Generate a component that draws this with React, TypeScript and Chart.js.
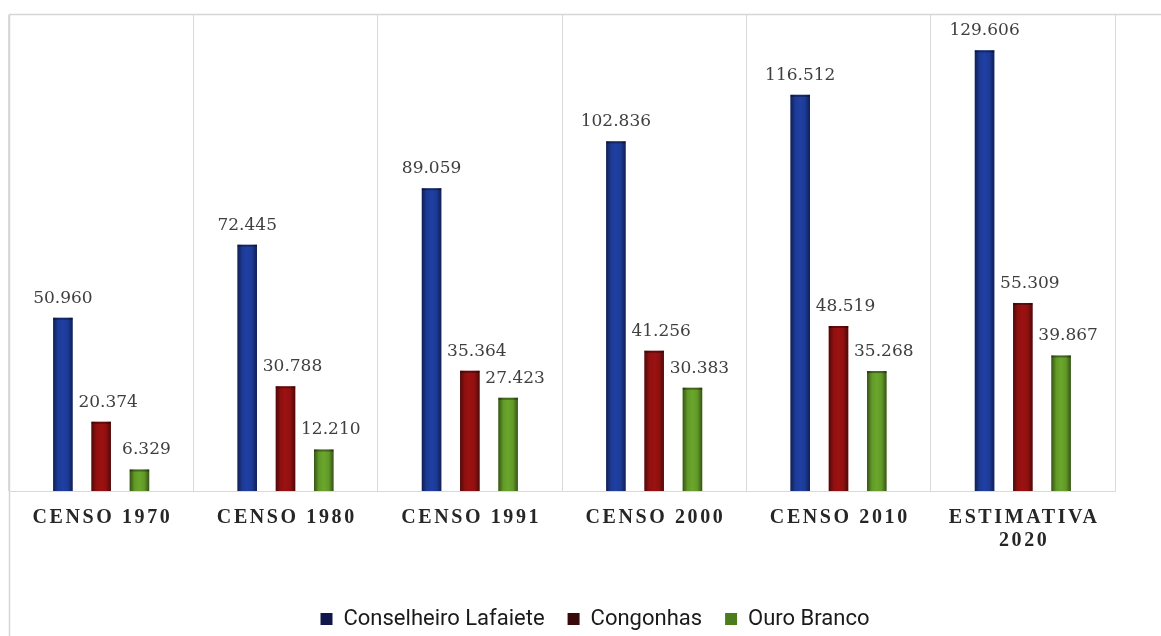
import { useEffect, useRef } from 'react';
import { Chart, registerables } from 'chart.js';

Chart.register(...registerables);

const categories: (string | string[])[] = [
  'CENSO 1970',
  'CENSO 1980',
  'CENSO 1991',
  'CENSO 2000',
  'CENSO 2010',
  ['ESTIMATIVA', '2020'],
];
const seriesNames = ['Conselheiro Lafaiete', 'Congonhas', 'Ouro Branco'];
const lafaiete = [50960, 72445, 89059, 102836, 116512, 129606];
const congonhas = [20374, 30788, 35364, 41256, 48519, 55309];
const ouroBranco = [6329, 12210, 27423, 30383, 35268, 39867];
const yMax = 140000;

const barColors = ['#1f3fa3', '#9c1111', '#6aa62b'];
const legendColors = ['#10174a', '#3a0909', '#4c7d1d'];
const labelOffsets = [0, 7, 7];
const tickLetterSpacing = 2.6;
const legendShift = 33;

function fmt(v: number): string {
  const th = Math.floor(v / 1000);
  const rest = String(v % 1000).padStart(3, '0');
  return th > 0 ? `${th}.${rest}` : String(v);
}

const framePlugin = {
  id: 'frame',
  afterLayout(chart: any) {
    const lg = chart.legend;
    if (lg) {
      lg.left += legendShift;
      lg.right += legendShift;
    }
  },
  beforeDraw(chart: any) {
    const ctx = chart.ctx;
    ctx.save();
    ctx.strokeStyle = '#d6d6d6';
    ctx.lineWidth = 1.5;
    ctx.beginPath();
    ctx.moveTo(9.5, chart.height);
    ctx.lineTo(9.5, 14.5);
    ctx.lineTo(chart.width, 14.5);
    ctx.stroke();
    ctx.restore();
    const s = chart.scales.x;
    if (s && !s.__patched) {
      const orig = s.drawLabels.bind(s);
      s.drawLabels = (area: any) => {
        const c = s.ctx;
        c.save();
        c.letterSpacing = tickLetterSpacing + 'px';
        c.translate(tickLetterSpacing / 2, 0);
        orig(area);
        c.restore();
      };
      s.__patched = true;
    }
  },
};

const barDecorPlugin = {
  id: 'barDecor',
  afterDatasetsDraw(chart: any) {
    const ctx = chart.ctx;
    chart.data.datasets.forEach((ds: any, di: number) => {
      const meta = chart.getDatasetMeta(di);
      meta.data.forEach((el: any, i: number) => {
        const { x, y, base, width } = el.getProps(['x', 'y', 'base', 'width'], true);
        const l = x - width / 2;
        const g = ctx.createLinearGradient(l, 0, l + width, 0);
        g.addColorStop(0, 'rgba(0,0,0,0.5)');
        g.addColorStop(0.25, 'rgba(0,0,0,0.08)');
        g.addColorStop(0.5, 'rgba(0,0,0,0)');
        g.addColorStop(0.75, 'rgba(0,0,0,0.08)');
        g.addColorStop(1, 'rgba(0,0,0,0.5)');
        ctx.save();
        ctx.fillStyle = g;
        ctx.fillRect(l, y, width, base - y);
        ctx.fillStyle = 'rgba(0,0,0,0.35)';
        ctx.fillRect(l, y, width, 2);
        ctx.restore();

        ctx.save();
        ctx.font = '17px "DejaVu Serif"';
        ctx.fillStyle = '#3f3f3f';
        ctx.textAlign = 'center';
        ctx.textBaseline = 'alphabetic';
        ctx.fillText(fmt(ds.data[i]), x + labelOffsets[di], y - 15);
        ctx.restore();
      });
    });
  },
};

export default function App() {
  const ref = useRef<HTMLCanvasElement>(null);
  useEffect(() => {
    if (!ref.current) return;
    const values = [lafaiete, congonhas, ouroBranco];
    const chart = new Chart(ref.current, {
      type: 'bar',
      data: {
        labels: categories,
        datasets: seriesNames.map((name, i) => ({
          label: name,
          data: values[i],
          backgroundColor: barColors[i],
          borderWidth: 0,
          categoryPercentage: 0.623,
          barPercentage: 0.51,
        })),
      },
      options: {
        animation: false,
        responsive: true,
        maintainAspectRatio: false,
        layout: { padding: { left: 9, right: 46, top: 15, bottom: 0 } },
        scales: {
          x: {
            offset: true,
            grid: { display: true, offset: true, color: '#d9d9d9', lineWidth: 1, drawTicks: false },
            border: { display: true, color: '#d9d9d9', width: 1 },
            ticks: {
              color: '#262626',
              font: { family: 'Liberation Serif', size: 20, weight: 'bold', lineHeight: 1.15 },
              padding: 15,
              maxRotation: 0,
              autoSkip: false,
            },
            afterFit: (s: any) => {
              s.height = 94;
            },
          },
          y: { display: false, min: 0, max: yMax },
        },
        plugins: {
          tooltip: { enabled: false },
          legend: {
            position: 'bottom',
            labels: {
              boxWidth: 12,
              boxHeight: 12,
              padding: 23,
              color: '#1a1a1a',
              font: { family: 'Roboto', size: 22 },
              generateLabels: (c: any) =>
                Chart.defaults.plugins.legend.labels.generateLabels(c).map((l: any, i: number) => ({
                  ...l,
                  fillStyle: legendColors[i],
                  strokeStyle: legendColors[i],
                  lineWidth: 0,
                })),
            },
          },
        },
      },
      plugins: [framePlugin, barDecorPlugin],
    } as any);
    return () => chart.destroy();
  }, []);
  return (
    <div style={{ position: 'fixed', left: 0, top: 0, width: 1161, height: 640, background: '#fff' }}>
      <canvas ref={ref} />
    </div>
  );
}
